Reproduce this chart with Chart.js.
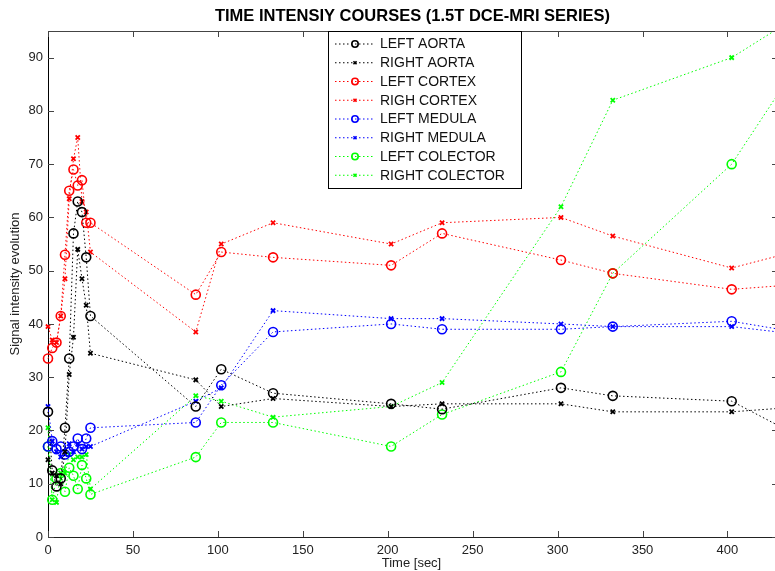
<!DOCTYPE html>
<html>
<head>
<meta charset="utf-8">
<script src="https://cdn.jsdelivr.net/npm/chart.js@4/dist/chart.umd.min.js"></script>
<style>
  html, body { margin: 0; padding: 0; background: #fff; }
</style>
</head>
<body>
<canvas id="chart" width="775" height="571"></canvas>
<script>
// Time points [sec]
const times = [0, 2.5, 5, 7.5, 10, 12.5, 15, 17.5, 20, 22.5, 25, 87, 102, 132.5, 202, 232, 302, 332.5, 402.5, 432.5];

// Signal intensity per region
const leftAorta     = [23.5, 12.5, 9.5, 11, 20.5, 33.5, 57, 63, 61, 52.5, 41.5, 24.5, 31.5, 27, 25, 24, 28, 26.5, 25.5, 20.5];
const rightAorta    = [14.5, 12, 11.5, 10, 16, 30.5, 37.5, 54, 48.5, 43.5, 34.5, 29.5, 24.5, 26, 24.5, 25, 25, 23.5, 23.5, 24.2];
const leftCortex    = [33.5, 35.5, 36.5, 41.5, 53, 65, 69, 66, 67, 59, 59, 45.5, 53.5, 52.5, 51, 57, 52, 49.5, 46.5, 47.2];
const rightCortex   = [39.5, 37, 36.5, 41.5, 48.5, 63.5, 71, 75, 63, 61, 53.5, 38.5, 55, 59, 55, 59, 60, 56.5, 50.5, 53];
const leftMedula    = [17, 18, 16.5, 17, 15.5, 16, 17, 18.5, 16.5, 18.5, 20.5, 21.5, 28.5, 38.5, 40, 39, 39, 39.5, 40.5, 38.9];
const rightMedula   = [24.5, 18, 16, 15, 15.5, 17.5, 16, 17.5, 16.5, 17, 17, 25.5, 28, 42.5, 41, 41, 40, 39.5, 39.5, 38.4];
const leftColector  = [17, 7, 11, 12, 8.5, 13, 11.5, 9, 13.5, 11, 8, 15, 21.5, 21.5, 17, 23, 31, 49.5, 70, 84.5];
const rightColector = [20.5, 7, 6.5, 12, 12, 15.5, 14.5, 15, 15, 15.5, 9, 26.5, 25.5, 22.5, 24.5, 29, 62, 82, 90, 96];

const seriesLabels = ['LEFT AORTA', 'RIGHT AORTA', 'LEFT CORTEX', 'RIGH CORTEX',
                      'LEFT MEDULA', 'RIGHT MEDULA', 'LEFT COLECTOR', 'RIGHT COLECTOR'];
const seriesValues = [leftAorta, rightAorta, leftCortex, rightCortex,
                      leftMedula, rightMedula, leftColector, rightColector];
const seriesColors = ['#000000', '#000000', '#ff0000', '#ff0000',
                      '#0000ff', '#0000ff', '#00ff00', '#00ff00'];

const xTicks = [0, 50, 100, 150, 200, 250, 300, 350, 400];
const yTicks = [0, 10, 20, 30, 40, 50, 60, 70, 80, 90];

const FONT = '"Liberation Sans", Arial, Helvetica, sans-serif';
const DOTS = [1.5, 2.5];

const datasets = seriesLabels.map((label, i) => {
    const isCircle = i % 2 === 0;
    return {
        label: label,
        data: seriesValues[i].map((v, k) => ({ x: times[k], y: v })),
        borderColor: seriesColors[i],
        backgroundColor: 'rgba(0,0,0,0)',
        borderWidth: 1,
        borderDash: DOTS,
        showLine: true,
        tension: 0,
        pointStyle: isCircle ? 'circle' : 'crossRot',
        pointRadius: isCircle ? 4.5 : 3,
        pointBorderWidth: isCircle ? 1.6 : 1.8,
        pointBorderColor: seriesColors[i],
        pointBackgroundColor: 'rgba(0,0,0,0)',
        clip: { left: 10, top: 0, right: 0, bottom: 10 }
    };
});

// Title centred over the axes, like the original figure
const titlePlugin = {
    id: 'axesTitle',
    afterDraw(chart) {
        const ctx = chart.ctx;
        const a = chart.chartArea;
        ctx.save();
        ctx.font = 'bold 16.5px ' + FONT;
        ctx.fillStyle = '#000';
        ctx.textAlign = 'center';
        ctx.textBaseline = 'middle';
        ctx.fillText('TIME INTENSIY COURSES (1.5T DCE-MRI SERIES)', (a.left + a.right) / 2 + 1, 16);
        ctx.restore();
    }
};

// Inward tick marks and the top border of the box
const boxPlugin = {
    id: 'boxTicks',
    afterDatasetsDraw(chart) {
        const ctx = chart.ctx;
        const a = chart.chartArea;
        const xs = chart.scales.x, ys = chart.scales.y;
        ctx.save();
        ctx.strokeStyle = '#444';
        ctx.lineWidth = 1;
        ctx.beginPath();
        ctx.moveTo(a.left, a.top + 0.5);
        ctx.lineTo(a.right, a.top + 0.5);
        xTicks.forEach(t => {
            const px = Math.round(xs.getPixelForValue(t)) + 0.5;
            ctx.moveTo(px, a.bottom); ctx.lineTo(px, a.bottom - 6);
            ctx.moveTo(px, a.top); ctx.lineTo(px, a.top + 6);
        });
        yTicks.forEach(t => {
            const py = Math.round(ys.getPixelForValue(t)) + 0.5;
            ctx.moveTo(a.left, py); ctx.lineTo(a.left + 6, py);
            ctx.moveTo(a.right, py); ctx.lineTo(a.right - 3, py);
        });
        ctx.stroke();
        ctx.restore();
    }
};

// Legend box in the upper middle of the axes
const legendPlugin = {
    id: 'boxLegend',
    afterDraw(chart) {
        const ctx = chart.ctx;
        const left = 328.5, top = 31.5, w = 193, h = 157;
        ctx.save();
        ctx.fillStyle = '#fff';
        ctx.fillRect(left, top, w, h);
        ctx.strokeStyle = '#000';
        ctx.lineWidth = 1;
        ctx.strokeRect(left, top, w, h);
        chart.data.datasets.forEach((ds, i) => {
            const y = 44 + i * 18.75;
            ctx.strokeStyle = ds.borderColor;
            ctx.lineWidth = 1;
            ctx.setLineDash(DOTS);
            ctx.beginPath();
            ctx.moveTo(335, y);
            ctx.lineTo(374, y);
            ctx.stroke();
            ctx.setLineDash([]);
            ctx.strokeStyle = ds.borderColor;
            ctx.fillStyle = 'rgba(0,0,0,0)';
            ctx.lineWidth = 1.6;
            Chart.helpers.drawPoint(ctx, {
                pointStyle: ds.pointStyle,
                radius: ds.pointStyle === 'circle' ? 3.2 : 2.2,
                rotation: 0,
                borderWidth: 1.6
            }, 355, y);
            ctx.fillStyle = '#111';
            ctx.font = '14px ' + FONT;
            ctx.textAlign = 'left';
            ctx.textBaseline = 'middle';
            ctx.fillText(ds.label, 380, y + 0.5);
        });
        ctx.restore();
    }
};

new Chart(document.getElementById('chart'), {
    type: 'scatter',
    data: { datasets: datasets },
    plugins: [titlePlugin, boxPlugin, legendPlugin],
    options: {
        responsive: false,
        animation: false,
        layout: { autoPadding: false, padding: { top: 31, right: 0, left: 0, bottom: 0 } },
        plugins: {
            legend: { display: false },
            title: { display: false },
            tooltip: { enabled: false }
        },
        scales: {
            x: {
                type: 'linear',
                min: 0,
                max: 428,
                afterFit(scale) {
                    scale.height = 34;
                    scale.paddingLeft = 0;
                    scale.paddingRight = 0;
                },
                afterBuildTicks(scale) { scale.ticks = xTicks.map(v => ({ value: v })); },
                ticks: { color: '#222', font: { family: FONT, size: 13 }, padding: 6, maxRotation: 0 },
                grid: { display: false, drawTicks: false, tickLength: 0 },
                border: { display: true, color: '#222', width: 1 },
                title: { display: true, text: 'Time [sec]', color: '#222', font: { family: FONT, size: 13 }, padding: { top: 0, bottom: 0 } }
            },
            y: {
                min: 0,
                max: 95,
                afterFit(scale) {
                    scale.width = 48;
                    scale.paddingTop = 0;
                    scale.paddingBottom = 0;
                },
                afterBuildTicks(scale) { scale.ticks = yTicks.map(v => ({ value: v })); },
                ticks: { color: '#222', font: { family: FONT, size: 13 }, padding: 5 },
                grid: { display: false, drawTicks: false, tickLength: 0 },
                border: { display: true, color: '#000', width: 1 },
                title: { display: true, text: 'Signal intensity evolution', color: '#222', font: { family: FONT, size: 13 }, padding: { top: 8, bottom: 0 } }
            }
        }
    }
});
</script>
</body>
</html>
